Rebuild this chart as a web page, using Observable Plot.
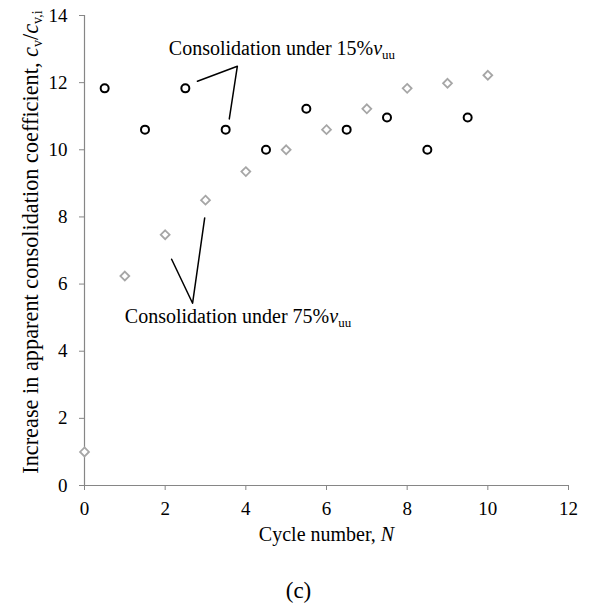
<!DOCTYPE html>
<html>
<head>
<meta charset="utf-8">
<script src="https://cdn.jsdelivr.net/npm/d3@7"></script>
<script src="https://cdn.jsdelivr.net/npm/@observablehq/plot@0.6"></script>
<style>
  body { margin: 0; background: #fff; font-family: "Liberation Serif", "Times New Roman", serif; }
  #chart svg, #chart svg text, #chart svg g { font-family: "Liberation Serif", "Times New Roman", serif !important; }
  #cap { width: 597px; text-align: center; font-size: 23px; line-height: 40px; padding-top: 16px; color: #000; font-family: "Liberation Serif", serif; }
</style>
</head>
<body>
<div id="chart"></div>
<div id="cap">(c)</div>
<script>
// Consolidation under 15% v_uu (black circles)
const cycle15 = [0.5, 1.5, 2.5, 3.5, 4.5, 5.5, 6.5, 7.5, 8.5, 9.5];
const ratio15 = [11.83, 10.6, 11.83, 10.6, 10.0, 11.22, 10.6, 10.96, 10.0, 10.96];
// Consolidation under 75% v_uu (grey diamonds)
const cycle75 = [0, 1, 2, 3, 4, 5, 6, 7, 8, 9, 10];
const ratio75 = [1.0, 6.24, 7.47, 8.5, 9.35, 10.0, 10.6, 11.22, 11.83, 11.98, 12.22];

const xTicks = [0, 2, 4, 6, 8, 10, 12];
const yTicks = [0, 2, 4, 6, 8, 10, 12, 14];

// annotation leader lines (data coordinates)
const leader15 = [[2.80, 12.04], [3.79, 12.49], [3.59, 10.92]];
const leader75 = [[2.16, 6.74], [2.68, 5.43], [2.98, 7.97]];

// rich-text segments: [text, style]
const label15 = [["Consolidation under 15%", ""], ["v", "i"], ["uu", "sub"]];
const label75 = [["Consolidation under 75%", ""], ["v", "i"], ["uu", "sub"]];
const yTitle = [["Increase in apparent consolidation coefficient, ", ""], ["c", "i"], ["v", "sub"], ["/", ""], ["c", "i"], ["v,i", "sub"]];
const xTitle = [["Cycle number, ", ""], ["N", "i"]];

const plain = segs => segs.map(s => s[0]).join("");
const pts15 = cycle15.map((x, i) => ({x, y: ratio15[i]}));
const pts75 = cycle75.map((x, i) => ({x, y: ratio75[i]}));
const axisGrey = "#868686";
const FS = 20, FSY = 22.3;

const chart = Plot.plot({
  width: 597, height: 555,
  marginLeft: 84, marginRight: 29, marginTop: 15, marginBottom: 70,
  style: { fontFamily: "'Liberation Serif', 'Times New Roman', serif", fontSize: "19px", color: "#000", background: "#fff" },
  x: { domain: [0, 12] },
  y: { domain: [0, 14] },
  marks: [
    Plot.axisX({ticks: xTicks, tickSize: 5, tickPadding: 11, stroke: axisGrey, label: null, fontSize: 19}),
    Plot.axisY({ticks: yTicks, tickSize: 5, tickPadding: 12, stroke: axisGrey, label: null, fontSize: 19}),
    Plot.ruleX([0], {stroke: axisGrey, strokeWidth: 1.2}),
    Plot.ruleY([0], {stroke: axisGrey, strokeWidth: 1.2}),
    Plot.line(leader15, {x: d => d[0], y: d => d[1], stroke: "#000", strokeWidth: 1.5}),
    Plot.line(leader75, {x: d => d[0], y: d => d[1], stroke: "#000", strokeWidth: 1.5}),
    Plot.dot(pts75, {x: "x", y: "y", symbol: "diamond2", r: 4, stroke: "#a6a6a6", strokeWidth: 1.8, fill: "#fff"}),
    Plot.dot(pts15, {x: "x", y: "y", symbol: "circle", r: 4, stroke: "#000", strokeWidth: 2, fill: "#fff"}),
    Plot.text([plain(label15)], {x: 2.09, y: 13.0, textAnchor: "start", fontSize: FS, fill: "#000"}),
    Plot.text([plain(label75)], {x: 1.0, y: 5.02, textAnchor: "start", fontSize: FS, fill: "#000"}),
    Plot.text([plain(yTitle)], {frameAnchor: "left", y: 7.25, rotate: -90, dx: -54, textAnchor: "middle", fontSize: FSY, fill: "#000"}),
    Plot.text([plain(xTitle)], {x: 6, frameAnchor: "bottom", dy: 55, textAnchor: "middle", fontSize: FS, fill: "#000"})
  ]
});
document.getElementById("chart").append(chart);

// turn placeholder strings into rich text (italic + subscripts)
const NS = "http://www.w3.org/2000/svg";
function enrich(segs, size) {
  const target = plain(segs);
  chart.querySelectorAll("text").forEach(t => {
    if (t.textContent !== target) return;
    while (t.firstChild) t.removeChild(t.firstChild);
    let shifted = false;
    segs.forEach(([str, style]) => {
      const ts = document.createElementNS(NS, "tspan");
      ts.textContent = str;
      if (style === "i") ts.setAttribute("font-style", "italic");
      if (style === "sub") {
        ts.setAttribute("font-size", Math.round(size * 0.65));
        if (!shifted) { ts.setAttribute("dy", 4); shifted = true; }
      } else if (shifted) {
        ts.setAttribute("dy", -4); shifted = false;
      }
      t.appendChild(ts);
    });
  });
}
enrich(label15, FS);
enrich(label75, FS);
enrich(yTitle, FSY);
enrich(xTitle, FS);
</script>
</body>
</html>
